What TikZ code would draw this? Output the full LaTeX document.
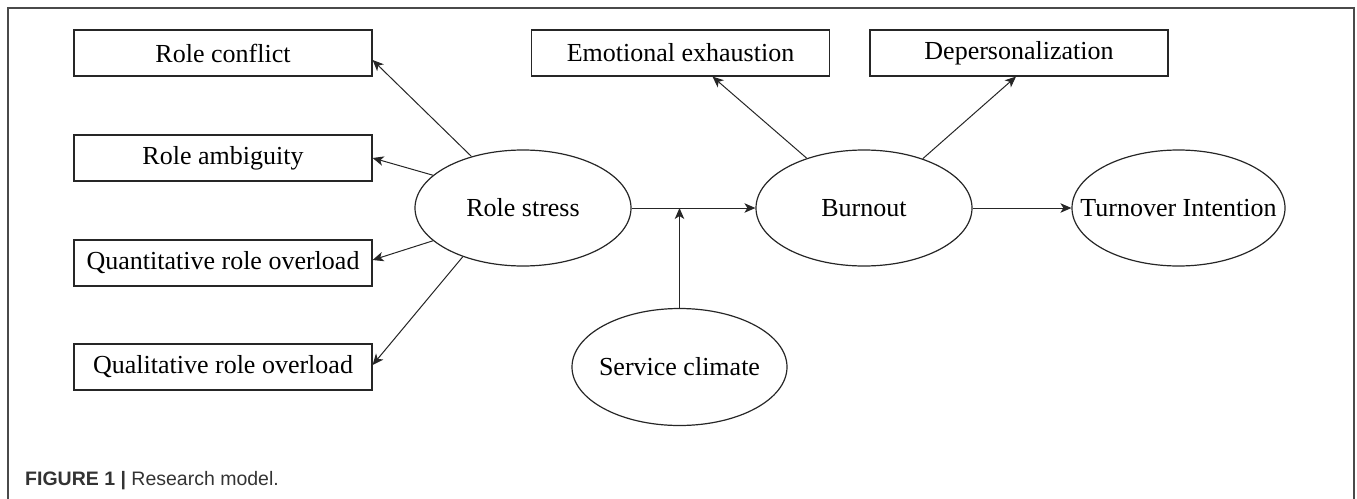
\documentclass[tikz,border=0pt]{standalone}
\usepackage{fontspec}
\setmainfont{Liberation Serif}
\newfontfamily\capfont{Liberation Sans}
\usetikzlibrary{arrows.meta,calc,shapes.geometric}
\definecolor{framegray}{HTML}{4A4A4A}
\definecolor{capgray}{HTML}{333333}
\begin{document}
\begin{tikzpicture}[x=1pt,y=-1pt,
  box/.style={draw=black!85,line width=1.2pt,minimum width=298pt,minimum height=46pt,inner sep=0pt,font=\fontsize{26}{30}\selectfont},
  oval/.style={draw=black!85,line width=1.2pt,ellipse,minimum width=216pt,minimum height=116pt,inner xsep=-40pt,inner ysep=0pt,font=\fontsize{26}{30}\selectfont},
  conn/.style={draw=black!85,line width=1pt,-{Stealth[length=11pt,width=9.5pt,inset=3pt]}},
  frameline/.style={draw=framegray,line width=1.5pt}
]
\useasboundingbox (0,0) rectangle (1357,498);
\draw[frameline] (8,500) -- (8,8) -- (1354,8) -- (1354,500);

\node[box] (rc) at (223,53) {Role conflict};
\node[box] (ra) at (223,158) {Role ambiguity};
\node[box] (qo) at (223,263) {Quantitative role overload};
\node[box] (ql) at (223,367) {Qualitative role overload};
\node[box] (ee) at (680.5,53) {Emotional exhaustion};
\node[box] (dp) at (1019,53) {Depersonalization};

\node[oval] (rs) at (523,208) {Role stress};
\node[oval] (bo) at (864,208) {Burnout};
\node[oval,minimum width=213pt] (ti) at (1178.5,208) {Turnover Intention};
\node[oval,minimum width=215pt,minimum height=117pt] (sc) at (679.5,367) {Service climate};

\draw[conn] (rs.135.5) -- ([yshift=-7pt]rc.east);
\draw[conn] (rs.160) -- (ra.east);
\draw[conn] (rs.200) -- ([yshift=3pt]qo.east);
\draw[conn] (rs.219) -- ([yshift=2pt]ql.east);
\draw[conn] (bo.139.7) -- ([xshift=32pt]ee.south);
\draw[conn] (bo.40.3) -- ([xshift=-3pt]dp.south);
\draw[conn] (rs.east) -- (bo.west);
\draw[conn] (sc.north) -- (sc.north |- rs.east);
\draw[conn] (bo.east) -- (ti.west);

\node[anchor=base west,inner sep=0pt,text=capgray,font=\capfont\fontsize{19.5}{22}\selectfont] (cap) at (25,485) {\textbf{FIGURE 1 |} Research model.};
\end{tikzpicture}
\end{document}
